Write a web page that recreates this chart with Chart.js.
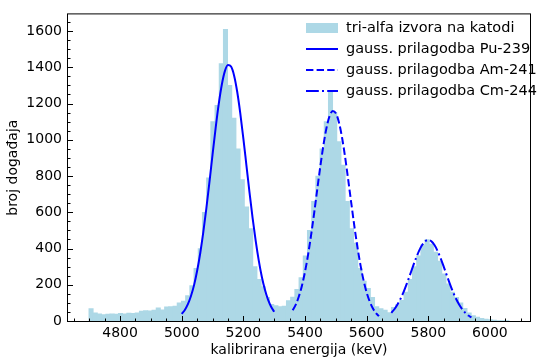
<!DOCTYPE html>
<html lang="hr">
<head>
<meta charset="UTF-8">
<title>tri-alfa izvor na katodi</title>
<script src="https://cdn.jsdelivr.net/npm/chart.js"></script>
<style>
  html, body { margin: 0; padding: 0; background: #fff; }
</style>
</head>
<body>
<canvas id="c" width="537" height="360"></canvas>
<script>
// histogram: 100 bins starting at 4699 keV, 13.63 keV wide
const binStart = 4699;
const binWidth = 13.63;
const counts = [
  68, 45, 40, 35, 38, 40, 38, 42, 40, 44,
  42, 45, 55, 58, 56, 60, 72, 62, 78, 80,
  82, 100, 110, 140, 195, 290, 400, 600, 790, 1100,
  1190, 1420, 1610, 1300, 1120, 950, 780, 630, 510, 300,
  230, 190, 130, 92, 85, 80, 82, 112, 132, 175,
  240, 360, 500, 660, 800, 950, 1100, 1265, 1150, 990,
  860, 660, 510, 430, 290, 220, 180, 130, 80, 68,
  60, 47, 75, 90, 114, 160, 230, 300, 360, 420,
  450, 425, 380, 330, 260, 205, 160, 130, 100, 70,
  45, 30, 22, 15, 10, 8, 5, 3, 2, 2
];

// gauss fits, read every 10 keV
const fitStep = 10;
const puStart = 5000;
const puFit = [39, 61, 93, 138, 198, 277, 374, 490, 623, 768, 918, 1065, 1197, 1304, 1379, 1413,
  1404, 1354, 1265, 1146, 1007, 858, 709, 568, 442, 333, 243, 172, 118, 79, 51];
const amStart = 5360;
const amFit = [59, 90, 135, 195, 272, 366, 477, 600, 730, 857, 973, 1068, 1132, 1159, 1147,
  1097, 1014, 906, 781, 652, 525, 409, 308, 224, 157, 107, 70, 44, 27];
const cmStart = 5680;
const cmFit = [45, 65, 91, 123, 161, 205, 252, 300, 346, 387, 419, 440, 447, 440,
  419, 387, 346, 300, 252, 205, 161, 123, 91, 65, 45, 30, 20];

const xTicks = [4800, 5000, 5200, 5400, 5600, 5800, 6000];
const yTicks = [0, 200, 400, 600, 800, 1000, 1200, 1400, 1600];
const labels = ['tri-alfa izvora na katodi', 'gauss. prilagodba Pu-239',
  'gauss. prilagodba Am-241', 'gauss. prilagodba Cm-244'];

const FONT = 'DejaVu Sans';
const FS = 14;
const LEG_FS = 14.5;
const BLUE = '#0000ff';
const HIST = '#add8e6';
const DASH = [7.4, 3.2];
const DASHDOT = [12.8, 3.2, 2, 3.2];

function fitPoints(start, vals) {
  return vals.map((v, i) => ({ x: start + i * fitStep, y: v }));
}

const histData = counts.map((c, i) => ({ x: binStart + binWidth * (i + 0.5), y: c }));

// frame, inward ticks and legend, matplotlib style
const decor = {
  id: 'decor',
  afterDatasetsDraw(chart) {
    const { ctx, chartArea: a, scales: { x, y } } = chart;
    ctx.save();
    ctx.strokeStyle = '#000';
    ctx.lineWidth = 1;
    ctx.strokeRect(a.left - 0.5, a.top - 0.5, a.right - a.left + 1, a.bottom - a.top + 1);

    ctx.beginPath();
    for (let v = 4650; v <= 6100; v += 50) {
      const px = Math.round(x.getPixelForValue(v)) + 0.5;
      const len = xTicks.includes(v) ? 5 : 2.5;
      ctx.moveTo(px, a.bottom);
      ctx.lineTo(px, a.bottom - len);
    }
    for (let v = 0; v <= 1650; v += 50) {
      const py = Math.round(y.getPixelForValue(v)) + 0.5;
      const len = yTicks.includes(v) ? 5 : 2.5;
      ctx.moveTo(a.left, py);
      ctx.lineTo(a.left + len, py);
    }
    ctx.stroke();

    // legend
    const hx0 = 306, hx1 = 338, tx = 346;
    const rows = [28, 49, 70, 91];
    ctx.fillStyle = HIST;
    ctx.fillRect(hx0, rows[0] - 5, hx1 - hx0, 10);
    const dashes = [[], DASH, DASHDOT];
    ctx.strokeStyle = BLUE;
    ctx.lineWidth = 2;
    dashes.forEach((d, i) => {
      ctx.setLineDash(d);
      ctx.beginPath();
      ctx.moveTo(hx0, rows[i + 1]);
      ctx.lineTo(hx1, rows[i + 1]);
      ctx.stroke();
    });
    ctx.setLineDash([]);
    ctx.fillStyle = '#000';
    ctx.font = LEG_FS + 'px "' + FONT + '"';
    ctx.textBaseline = 'middle';
    ctx.textAlign = 'left';
    labels.forEach((t, i) => ctx.fillText(t, tx, rows[i]));
    ctx.restore();
  }
};

Chart.defaults.font.family = FONT;
Chart.defaults.font.size = FS;
Chart.defaults.color = '#000';

new Chart(document.getElementById('c'), {
  type: 'bar',
  data: {
    datasets: [
      {
        type: 'line', data: fitPoints(puStart, puFit), borderColor: BLUE, borderWidth: 2,
        pointRadius: 0, cubicInterpolationMode: 'monotone', order: 1
      },
      {
        type: 'line', data: fitPoints(amStart, amFit), borderColor: BLUE, borderWidth: 2,
        borderDash: DASH, pointRadius: 0, cubicInterpolationMode: 'monotone', order: 1
      },
      {
        type: 'line', data: fitPoints(cmStart, cmFit), borderColor: BLUE, borderWidth: 2,
        borderDash: DASHDOT, pointRadius: 0, cubicInterpolationMode: 'monotone', order: 1
      },
      {
        type: 'bar', data: histData, backgroundColor: HIST, borderWidth: 0,
        barThickness: 4.4, order: 2
      }
    ]
  },
  options: {
    responsive: false,
    animation: false,
    devicePixelRatio: 1,
    layout: { padding: { left: 0, top: 10, right: 7, bottom: 0 } },
    plugins: { legend: { display: false }, tooltip: { enabled: false } },
    scales: {
      x: {
        type: 'linear', min: 4631, max: 6130, offset: false,
        grid: { display: false, drawTicks: false },
        border: { display: false },
        ticks: { padding: 4, maxRotation: 0, callback: v => String(v) },
        afterBuildTicks: s => { s.ticks = xTicks.map(v => ({ value: v })); },
        afterFit: s => { s.height = 39; },
        title: { display: true, text: 'kalibrirana energija (keV)', padding: { top: 0, bottom: 1 } }
      },
      y: {
        type: 'linear', min: 0, max: 1692,
        grid: { display: false, drawTicks: false },
        border: { display: false },
        ticks: { padding: 6, callback: v => String(v) },
        afterBuildTicks: s => { s.ticks = yTicks.map(v => ({ value: v })); },
        afterFit: s => { s.width = 68; },
        title: { display: true, text: 'broj događaja', padding: { top: 5, bottom: 0 } }
      }
    }
  },
  plugins: [decor]
});
</script>
</body>
</html>
